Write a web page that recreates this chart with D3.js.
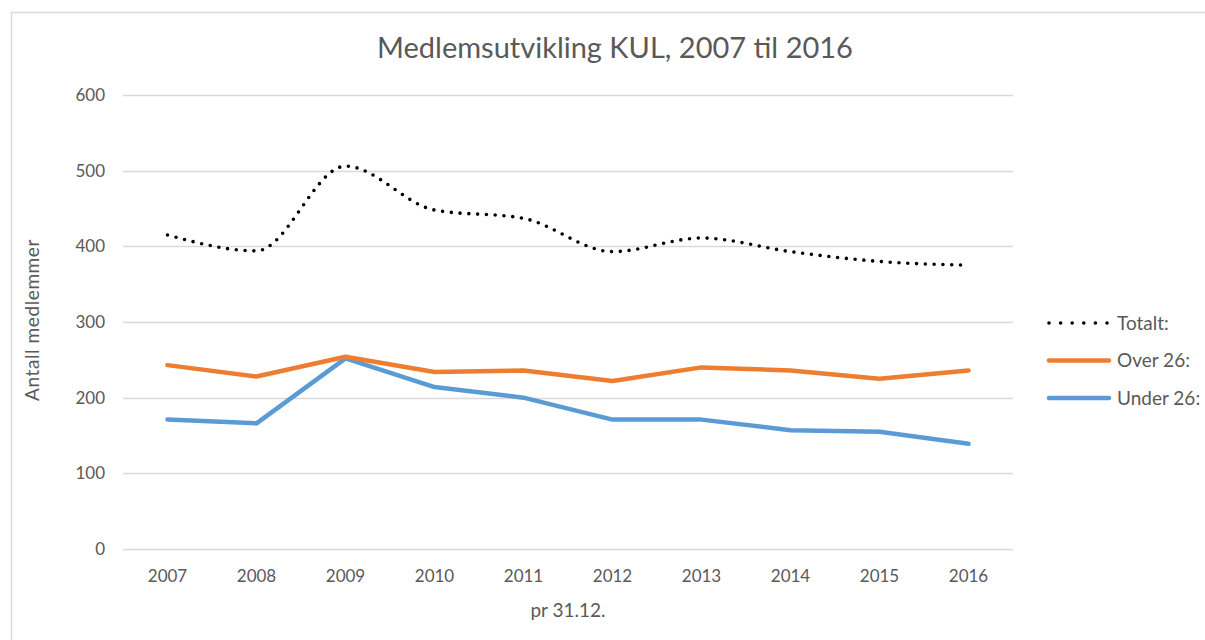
<!DOCTYPE html>
<html>
<head>
<meta charset="utf-8">
<script src="https://cdn.jsdelivr.net/npm/d3@7"></script>
<style>
  body { margin: 0; background: #fff; }
  text { font-family: Lato, "Open Sans", sans-serif; fill: #595959; }
</style>
</head>
<body>
<div id="chart"></div>
<script>
// data
var years = ["2007", "2008", "2009", "2010", "2011", "2012", "2013", "2014", "2015", "2016"];
var totalt = [415, 394, 506, 448, 437, 393, 411, 393, 380, 375];
var over26 = [243, 228, 254, 234, 236, 222, 240, 236, 225, 236];
var under26 = [171, 166, 252, 214, 200, 171, 171, 157, 155, 139];
var yTicks = [0, 100, 200, 300, 400, 500, 600];

var W = 1205, H = 640;
var m = [95, 192, 91, 123]; // top, right, bottom, left
var w = W - m[1] - m[3];
var h = H - m[0] - m[2];

var svg = d3.select("#chart").append("svg")
    .attr("width", W)
    .attr("height", H);

// chart frame
svg.append("rect")
    .attr("x", 11.5).attr("y", 12.5)
    .attr("width", W + 10).attr("height", H + 10)
    .attr("fill", "none")
    .attr("stroke", "#d9d9d9")
    .attr("stroke-width", 1.5);

var x = d3.scaleBand().domain(years).range([0, w]);
var y = d3.scaleLinear().domain([0, 600]).range([h, 0]);

var g = svg.append("g")
    .attr("transform", "translate(" + m[3] + "," + m[0] + ")");

// gridlines
g.selectAll("line.grid")
    .data(yTicks)
  .enter().append("line")
    .attr("class", "grid")
    .attr("x1", 0).attr("x2", w)
    .attr("y1", function(d) { return Math.round(y(d)) + 0.5; })
    .attr("y2", function(d) { return Math.round(y(d)) + 0.5; })
    .attr("stroke", "#d9d9d9")
    .attr("stroke-width", 1.3);

// y axis
var yAxis = d3.axisLeft(y).tickValues(yTicks).tickSize(0).tickPadding(18);
g.append("g").call(yAxis)
    .call(function(s) { s.select(".domain").remove(); })
    .selectAll("text")
    .style("font-size", "17px")
    .attr("fill", "#595959");

// x axis
var xAxis = d3.axisBottom(x).tickSize(0).tickPadding(21);
g.append("g")
    .attr("transform", "translate(0," + h + ")")
    .call(xAxis)
    .call(function(s) { s.select(".domain").remove(); })
    .selectAll("text")
    .style("font-size", "17px")
    .attr("fill", "#595959");

var cx = function(d, i) { return x(years[i]) + x.bandwidth() / 2; };

var straight = d3.line()
    .x(cx)
    .y(function(d) { return y(d); });

var smooth = d3.line()
    .x(cx)
    .y(function(d) { return y(d); })
    .curve(d3.curveMonotoneX);

var series = [
    { name: "Totalt:", values: totalt, color: "#000000", dotted: true },
    { name: "Over 26:", values: over26, color: "#ED7D31", dotted: false },
    { name: "Under 26:", values: under26, color: "#5B9BD5", dotted: false }
];

// draw blue first, then orange, then total on top
[series[2], series[1], series[0]].forEach(function(s) {
    g.append("path")
        .attr("fill", "none")
        .attr("stroke", s.color)
        .attr("stroke-width", s.dotted ? 3.6 : 4.5)
        .attr("stroke-linejoin", "round")
        .attr("stroke-linecap", "round")
        .attr("stroke-dasharray", s.dotted ? "0,8.8" : null)
        .attr("d", s.dotted ? smooth(s.values) : straight(s.values));
});

// title
svg.append("text")
    .attr("x", 615).attr("y", 58)
    .attr("text-anchor", "middle")
    .style("font-size", "29px")
    .text("Medlemsutvikling KUL, 2007 til 2016");

// axis titles
svg.append("text")
    .attr("transform", "translate(39," + (m[0] + h / 2 - 2) + ") rotate(-90)")
    .attr("text-anchor", "middle")
    .style("font-size", "19px")
    .style("letter-spacing", "0.6px")
    .text("Antall medlemmer");

svg.append("text")
    .attr("x", m[3] + w / 2).attr("y", 617)
    .attr("text-anchor", "middle")
    .style("font-size", "19px")
    .text("pr 31.12.");

// legend
var legend = svg.append("g").attr("transform", "translate(1049,323)");
series.forEach(function(s, i) {
    var row = legend.append("g").attr("transform", "translate(0," + (i * 37.5) + ")");
    row.append("line")
        .attr("x1", 0).attr("x2", 60)
        .attr("y1", 0).attr("y2", 0)
        .attr("stroke", s.color)
        .attr("stroke-width", s.dotted ? 3.6 : 4.5)
        .attr("stroke-linecap", "round")
        .attr("stroke-dasharray", s.dotted ? "0,11.6" : null);
    row.append("text")
        .attr("x", 68).attr("y", 6.5)
        .style("font-size", "19px")
        .text(s.name);
});
</script>
</body>
</html>
